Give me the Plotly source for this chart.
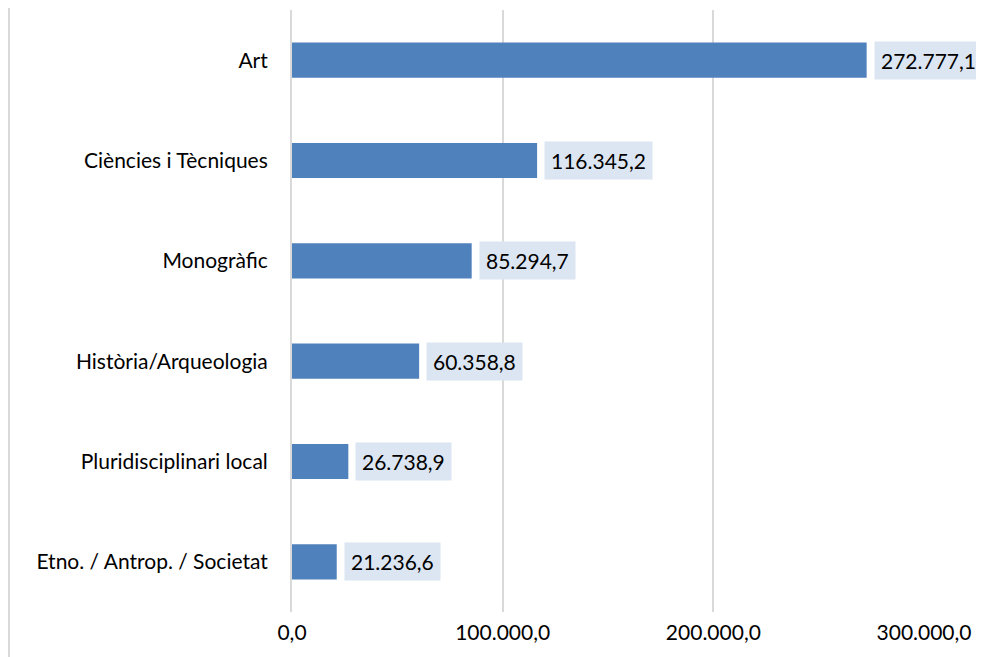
import plotly.graph_objects as go

categories = ["Etno. / Antrop. / Societat", "Pluridisciplinari local", "Història/Arqueologia",
              "Monogràfic", "Ciències i Tècniques", "Art"]
values = [21236.6, 26738.9, 60358.8, 85294.7, 116345.2, 272777.1]
tick_vals = [0, 100000, 200000, 300000]
tick_text = ["0,0", "100.000,0", "200.000,0", "300.000,0"]


def fmt(v):
    s = f"{v:,.1f}"
    return s.replace(",", "X").replace(".", ",").replace("X", ".")


FONT = "Lato"
FS = 21
W, H = 976, 649
L, T = 284, 2
PW, PH = 632, 602
R, B = W - L - PW, H - T - PH

fig = go.Figure()
fig.add_trace(go.Bar(
    x=values, y=categories, orientation="h",
    marker=dict(color="#4F81BD", line=dict(width=0)),
    width=0.35, hoverinfo="x+y",
))

for c, v in zip(categories, values):
    fig.add_annotation(
        x=v, y=c, xref="x", yref="y", text=fmt(v), showarrow=False,
        xanchor="left", xshift=7, bgcolor="#DCE6F2",
        borderpad=6, font=dict(family=FONT, size=FS, color="#000000"),
    )

fig.add_shape(type="line", xref="paper", yref="paper",
              x0=(1 - L) / PW, x1=(1 - L) / PW, y0=-B / PH - 0.05, y1=1 + T / PH + 0.05,
              line=dict(color="#D9D9D9", width=2))

fig.update_layout(
    width=W, height=H, margin=dict(l=L, r=R, t=T, b=B),
    paper_bgcolor="white", plot_bgcolor="white", showlegend=False,
    bargap=0.65,
    font=dict(family=FONT, size=FS, color="#000000"),
    xaxis=dict(range=[0, 300000], tickvals=tick_vals, ticktext=tick_text,
               showgrid=True, gridcolor="#D9D9D9", gridwidth=2, zeroline=False,
               showline=False, ticks="", ticklabelstandoff=6,
               tickfont=dict(family=FONT, size=FS, color="#000000")),
    yaxis=dict(showgrid=False, zeroline=False, showline=True, linecolor="#D9D9D9", linewidth=2,
               ticks="", ticklabelstandoff=18,
               tickfont=dict(family=FONT, size=FS, color="#000000")),
)

fig.write_html("out.html")
